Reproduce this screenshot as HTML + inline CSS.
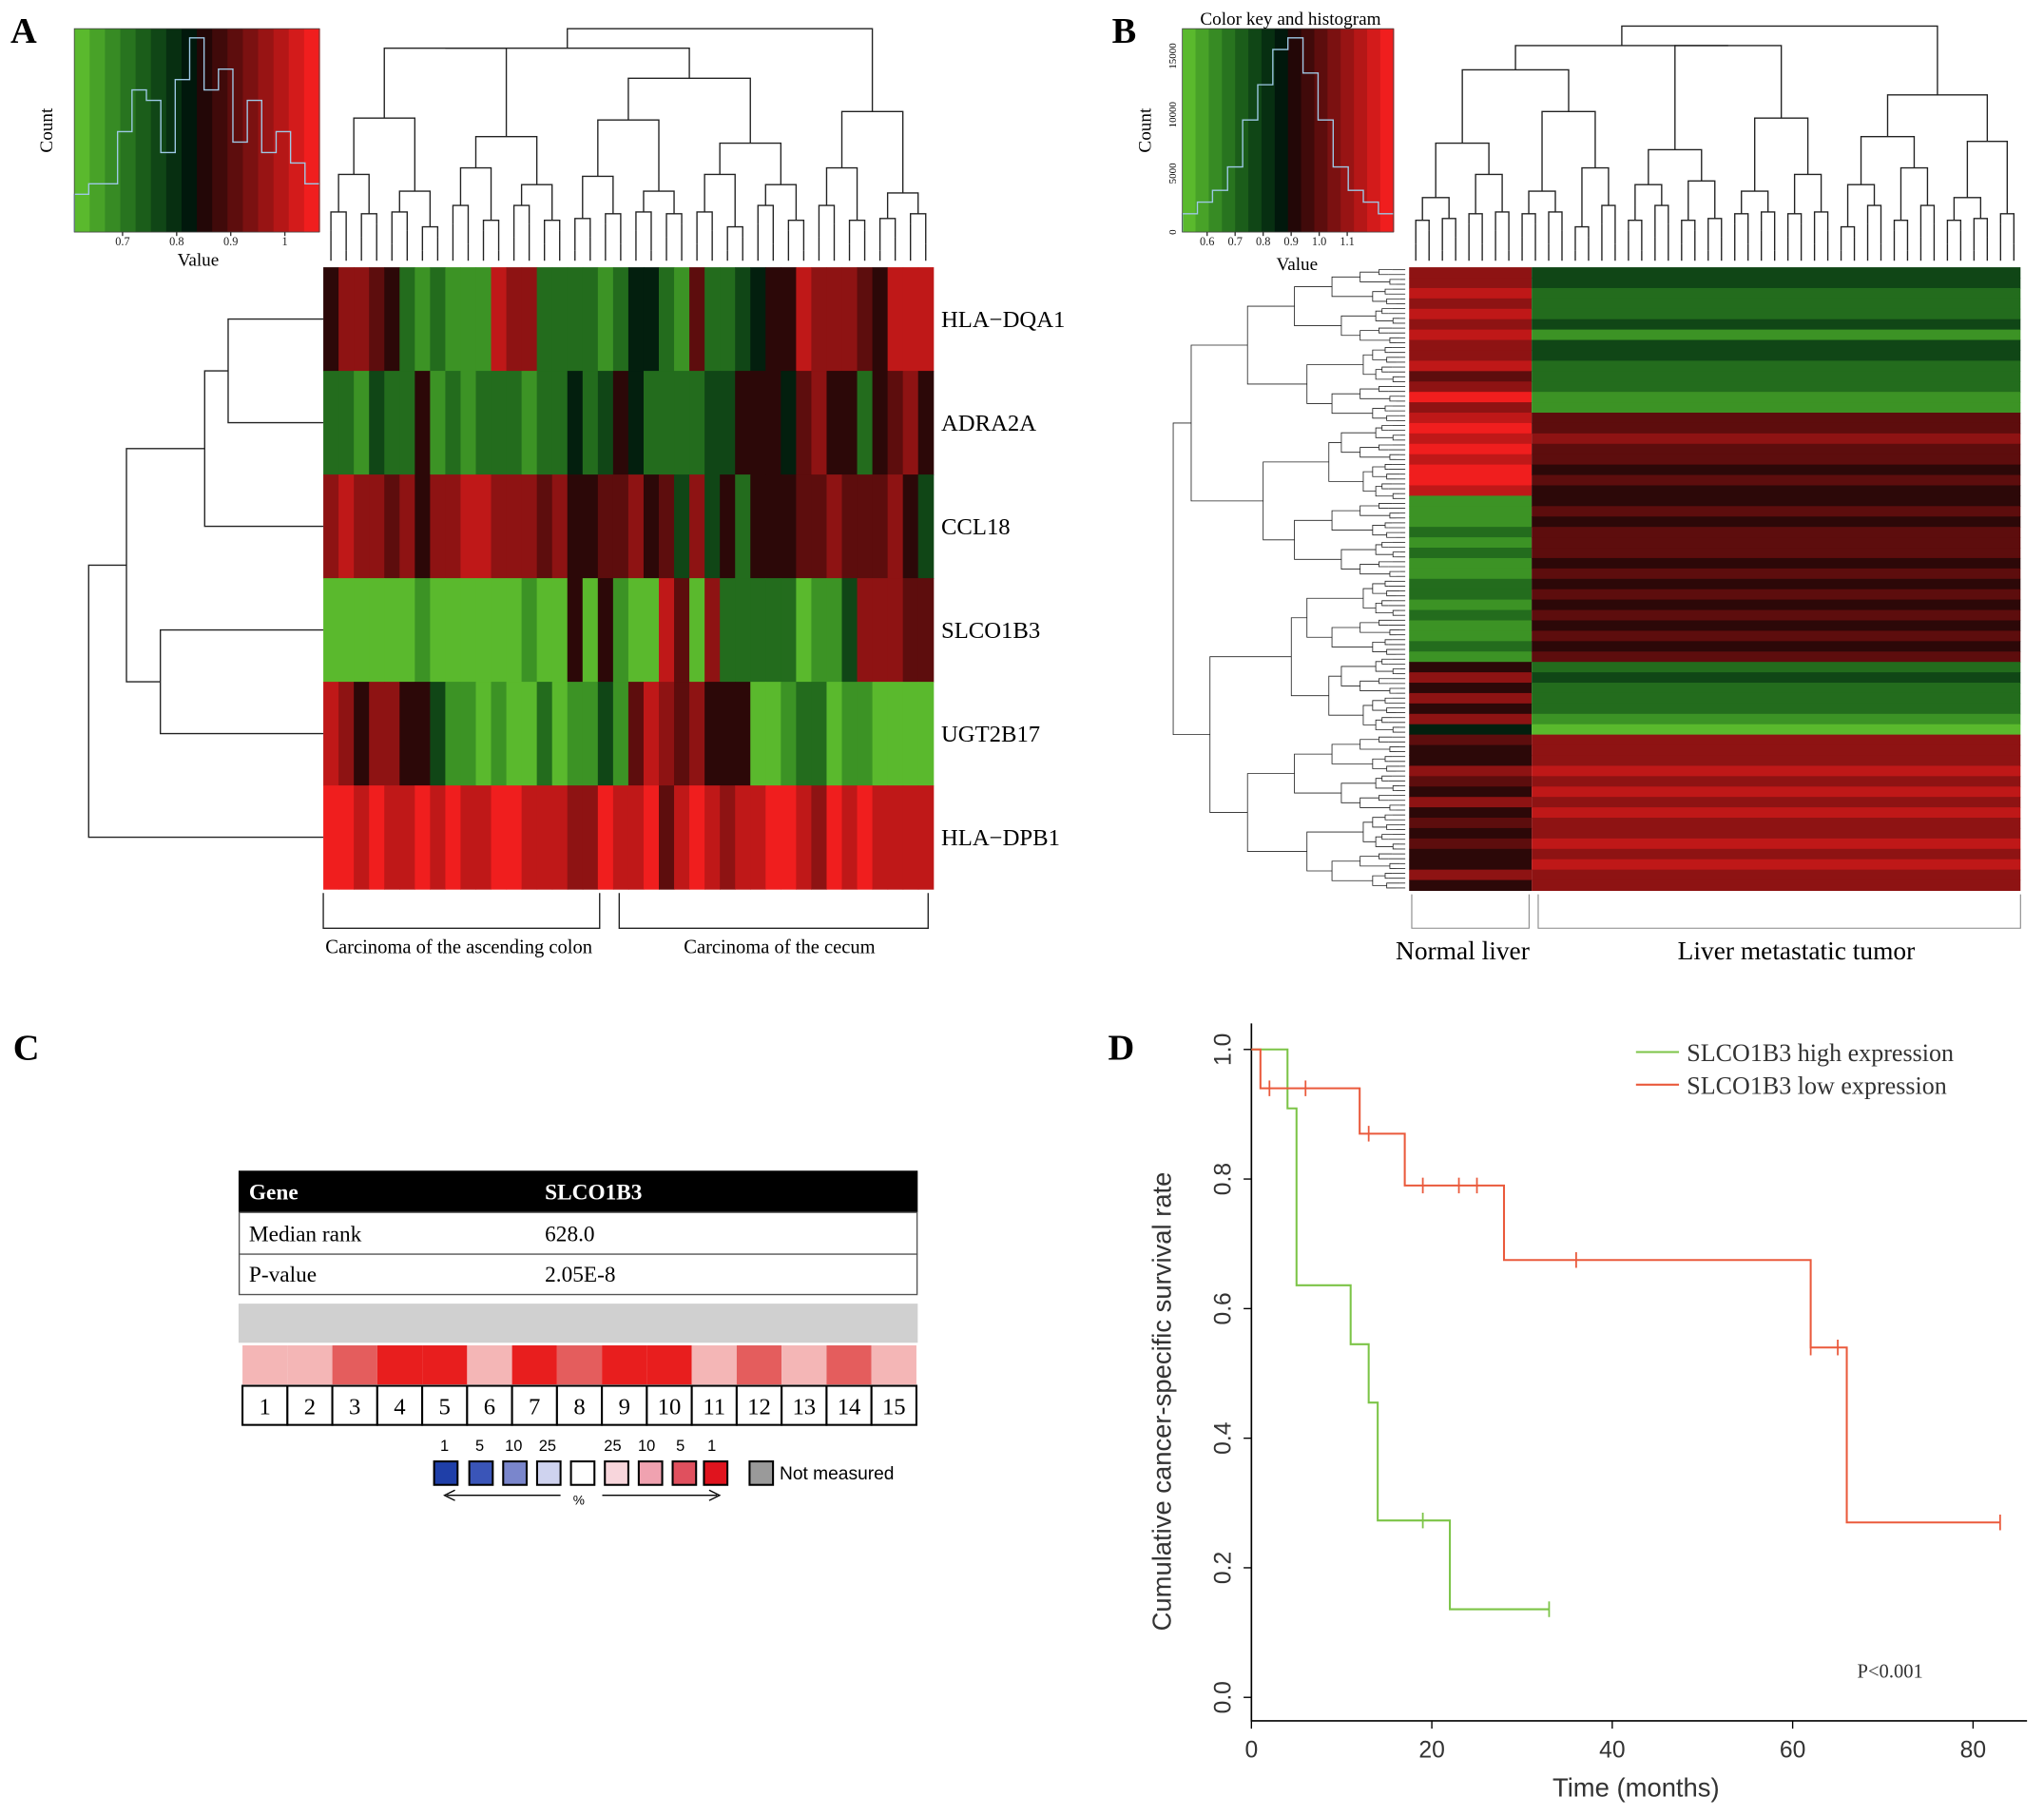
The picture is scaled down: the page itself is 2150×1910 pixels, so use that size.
<!DOCTYPE html>
<html><head><meta charset="utf-8"><style>
html,body{margin:0;padding:0;background:#fff;}
svg{display:block;font-family:"Liberation Serif",serif;}
</style></head><body>
<svg id="fig" width="2150" height="1910" viewBox="0 0 1568 1393" xmlns="http://www.w3.org/2000/svg">
<g id="A"></g>
<g id="B"></g>
<g id="C"></g>
<g id="D"></g>
</svg>
<script>
// ---------- DATA ----------
const aGenes = ["HLA−DQA1","ADRA2A","CCL18","SLCO1B3","UGT2B17","HLA−DPB1"];
const aRows = [
"5776521211187722221244216223455877765888",
"2213225121222122423542222335554675525675",
"7877675778877767556675637352555667666753",
"0000001000000100505100860722222011377766",
"8757755311010020113168767555001220110000",
"9989889898899888779889689878899879898888"];
const aHist = [3,4,4,9,13,12,7,14,18,13,15,8,12,7,9,6,4];
const aKeyTicks = ["0.7","0.8","0.9","1"];
const bNormal = "778787877867978989899811121211221211215757574655765756565575";
const bTumor  = "332223133222116676656556566656565656562322210777878787787877";
const bHist = [1,2,3,5,9,12,15,16,13,9,5,3,2,1];
const bKeyTicks = ["0.6","0.7","0.8","0.9","1.0","1.1"];
const bCountTicks = ["0","5000","10000","15000"];
const cTissues = ["1","2","3","4","5","6","7","8","9","10","11","12","13","14","15"];
const cLevels = [1,1,2,3,3,1,3,2,3,3,1,2,1,2,1];
const greenT = [0,4,5,11,13,14,22,33];
const greenS = [1.0,0.909,0.636,0.545,0.455,0.273,0.136,0.136];
const greenCens = [[19,0.273],[33,0.136]];
const redT = [0,1,12,17,28,62,66,83];
const redS = [1.0,0.94,0.87,0.79,0.675,0.54,0.27,0.27];
const redCens = [[2,0.94],[6,0.94],[13,0.87],[19,0.79],[23,0.79],[25,0.79],[36,0.675],[62,0.54],[65,0.54],[83,0.27]];
const dXTicks = [0,20,40,60,80];
const dYTicks = [0,0.2,0.4,0.6,0.8,1.0];

const NS="http://www.w3.org/2000/svg";
function mk(parent,tag,attrs,text){const e=document.createElementNS(NS,tag);for(const k in attrs)e.setAttribute(k,attrs[k]);if(text!==undefined)e.textContent=text;parent.appendChild(e);return e;}
function heat(v){ // 0..9 green->black->red
  v=+v; if(v<=4.5){const t=v/4.5;const r=Math.round(90*Math.pow(1-t,1.6)),gg=Math.round(185*(1-t)+12*t),b=Math.round(45*(1-t)+10*t);return `rgb(${r},${gg},${b})`;}
  const t=(v-4.5)/4.5;return `rgb(${Math.round(20+220*t)},${Math.round(5+25*t)},${Math.round(5+25*t)})`;}
function dendroCols(g,x0,x1,yTop,yLeaf,n,seed){
  let nodes=[];const w=(x1-x0)/n;
  for(let i=0;i<n;i++)nodes.push({x:x0+w*(i+.5),y:yLeaf- (8+((i*7+seed)%5)*5)});
  nodes.forEach(nd=>{mk(g,'line',{x1:nd.x,y1:yLeaf,x2:nd.x,y2:nd.y,stroke:'#222','stroke-width':1});});
  let lvl=1;
  while(nodes.length>1){const nn=[];
    for(let i=0;i<nodes.length;i+=2){
      if(i+1>=nodes.length){nn.push(nodes[i]);continue;}
      const a=nodes[i],b=nodes[i+1];
      const h=Math.min(a.y,b.y)-(6+((i+seed)%4)*4)*lvl*0.8;
      const y=nodes.length<=2?yTop:Math.max(yTop+15,h);
      mk(g,'path',{d:`M${a.x},${a.y}V${y}H${b.x}V${b.y}`,fill:'none',stroke:'#222','stroke-width':1});
      nn.push({x:(a.x+b.x)/2,y:y});}
    nodes=nn;lvl++;}
}
function dendroRows(g,y0,y1,xLeft,xLeaf,n,seed,sw){
  let nodes=[];const h=(y1-y0)/n;
  for(let i=0;i<n;i++)nodes.push({y:y0+h*(i+.5),x:xLeaf-(4+((i*5+seed)%4)*3)});
  nodes.forEach(nd=>mk(g,'line',{x1:xLeaf,y1:nd.y,x2:nd.x,y2:nd.y,stroke:'#222','stroke-width':sw}));
  let lvl=1;
  while(nodes.length>1){const nn=[];
    for(let i=0;i<nodes.length;i+=2){
      if(i+1>=nodes.length){nn.push(nodes[i]);continue;}
      const a=nodes[i],b=nodes[i+1];
      let x=Math.min(a.x,b.x)-(3+((i+seed)%3)*3)*lvl*0.8;
      if(nodes.length<=2)x=xLeft;
      mk(g,'path',{d:`M${a.x},${a.y}H${x}V${b.y}H${b.x}`,fill:'none',stroke:'#222','stroke-width':sw});
      nn.push({y:(a.y+b.y)/2,x:x});}
    nodes=nn;lvl++;}
}
function colorKey(g,x,y,w,h,hist,ticks,tickStart,tickStep){
  const n=16;
  for(let i=0;i<n;i++){const r=mk(g,'rect',{x:x+i*w/n,y:y,width:w/n+0.5,height:h,fill:heat(i*9/(n-1))});
    }
  const mx=Math.max(...hist);let d=`M${x},${y+h}`;
  hist.forEach((v,i)=>{const yy=y+h-5-v/mx*(h-12);d+=`V${yy}H${x+(i+1)*w/hist.length}`;});
  mk(g,'path',{d:d,fill:'none',stroke:'#9ec9e6','stroke-width':1});
  mk(g,'rect',{x:x,y:y,width:w,height:h,fill:'none',stroke:'#444','stroke-width':0.6});
  ticks.forEach((t,i)=>{const tx=tickStart+i*tickStep;mk(g,'line',{x1:tx,y1:y+h,x2:tx,y2:y+h+3,stroke:'#333'});
    mk(g,'text',{x:tx,y:y+h+10,'font-size':9,'text-anchor':'middle',fill:'#222'},t);});
}
// ---------- PANEL A ----------
(function(){
  const g=document.getElementById('A');
  const lab=mk(g,'text',{x:8,y:33,'font-size':28,'font-weight':'bold'},'A');
  
  colorKey(g,57,22,188,156,aHist,aKeyTicks,94,41.5);
  mk(g,'text',{x:152,y:204,'font-size':14,'text-anchor':'middle'},'Value');
  mk(g,'text',{x:40,y:100,'font-size':14,'text-anchor':'middle',transform:'rotate(-90 40 100)'},'Count');
  const hx=248,hy=205,hw=468,hh=477;const rows=aRows.length,cols=aRows[0].length;
  const cw=hw/cols,rh=hh/rows;
  aRows.forEach((r,ri)=>{for(let c=0;c<cols;c++){const e=mk(g,'rect',{x:hx+c*cw,y:hy+ri*rh,width:cw+0.4,height:rh+0.4,fill:heat(r[c])});
    }
    const t=mk(g,'text',{x:722,y:hy+ri*rh+rh/2+6,'font-size':18},aGenes[ri]);
    });
  dendroCols(g,hx,hx+hw,22,200,cols,3);
  const rc=i=>hy+rh*(i+.5);
  const L=(d)=>mk(g,'path',{d:d,fill:'none',stroke:'#222','stroke-width':1});
  L(`M248,${rc(0)}H175V${rc(1)}H248`);
  L(`M175,${(rc(0)+rc(1))/2}H157V${rc(2)}H248`);
  L(`M248,${rc(3)}H123V${rc(4)}H248`);
  const m1=((rc(0)+rc(1))/2+rc(2))/2, m2=(rc(3)+rc(4))/2;
  L(`M157,${m1}H97V${m2}H123`);
  L(`M97,${(m1+m2)/2}H68V${rc(5)}H248`);
  L(`M248,685V712H460V685`);L(`M475,685V712H712V685`);
  mk(g,'text',{x:352,y:731,'font-size':15,'text-anchor':'middle'},'Carcinoma of the ascending colon');
  mk(g,'text',{x:598,y:731,'font-size':15,'text-anchor':'middle'},'Carcinoma of the cecum');
})();
// ---------- PANEL B ----------
(function(){
  const g=document.getElementById('B');
  mk(g,'text',{x:853,y:33,'font-size':28,'font-weight':'bold'},'B');
  colorKey(g,907,22,162,156,bHist,bKeyTicks,926,21.5);
  mk(g,'text',{x:990,y:19,'font-size':14,'text-anchor':'middle'},'Color key and histogram');
  mk(g,'text',{x:995,y:207,'font-size':14,'text-anchor':'middle'},'Value');
  mk(g,'text',{x:883,y:100,'font-size':14,'text-anchor':'middle',transform:'rotate(-90 883 100)'},'Count');
  bCountTicks.forEach((t,i)=>{const yy=178-i*45;mk(g,'text',{x:902,y:yy,'font-size':8,'text-anchor':'middle',transform:`rotate(-90 902 ${yy})`},t);});
  const x0=1081,xs=1175,x1=1550,y0=205,y1=683;const n=bNormal.length;const rh=(y1-y0)/n;
  for(let i=0;i<n;i++){
    const a=mk(g,'rect',{x:x0,y:y0+i*rh,width:xs-x0,height:rh+0.4,fill:heat(bNormal[i])});
    
    const b=mk(g,'rect',{x:xs,y:y0+i*rh,width:x1-xs,height:rh+0.4,fill:heat(bTumor[i])});
    }
  dendroCols(g,x0,x1,20,200,46,1);
  dendroRows(g,y0,y1,900,1078,128,2,0.6);
  mk(g,'path',{d:'M1083,686V712H1173V686M1180,686V712H1550V686',fill:'none',stroke:'#888','stroke-width':0.8});
  mk(g,'text',{x:1122,y:736,'font-size':20,'text-anchor':'middle'},'Normal liver');
  mk(g,'text',{x:1378,y:736,'font-size':20,'text-anchor':'middle'},'Liver metastatic tumor');
})();
// ---------- PANEL C ----------
(function(){
  const g=document.getElementById('C');
  mk(g,'text',{x:10,y:813,'font-size':28,'font-weight':'bold'},'C');
  mk(g,'rect',{x:183,y:898,width:521,height:32,fill:'#000'});
  mk(g,'text',{x:191,y:920,'font-size':17,'font-weight':'bold',fill:'#fff'},'Gene');
  mk(g,'text',{x:418,y:920,'font-size':17,'font-weight':'bold',fill:'#fff'},'SLCO1B3');
  mk(g,'rect',{x:183.5,y:930,width:520,height:63,fill:'none',stroke:'#555'});
  mk(g,'line',{x1:183,y1:962,x2:704,y2:962,stroke:'#555'});
  mk(g,'text',{x:191,y:952,'font-size':17},'Median rank');mk(g,'text',{x:418,y:952,'font-size':17},'628.0');
  mk(g,'text',{x:191,y:983,'font-size':17},'P-value');mk(g,'text',{x:418,y:983,'font-size':17},'2.05E-8');
  mk(g,'rect',{x:183,y:1000,width:521,height:30,fill:'#d0d0d0'});
  const cols={1:'#f4b6b6',2:'#e45d5d',3:'#e81e1e'};const w=(703-186)/15;
  cTissues.forEach((t,i)=>{const x=186+i*w;
    const c=mk(g,'rect',{x:x,y:1032,width:w,height:30,fill:cols[cLevels[i]]});
    
    mk(g,'rect',{x:x,y:1063,width:w,height:30,fill:'#fff',stroke:'#000','stroke-width':1.5});
    mk(g,'text',{x:x+w/2,y:1085,'font-size':18,'text-anchor':'middle'},t);});
  const lg=[['#1f3fa8','1'],['#3a55b8','5'],['#7a86cc','10'],['#cfd3ef','25'],['#fff',''],['#f8d6dc','25'],['#f0a2b0','10'],['#e0505e','5'],['#e0141e','1']];
  const lx=[333,360,386,412,438,464,490,516,540];
  lg.forEach((l,i)=>{mk(g,'rect',{x:lx[i],y:1121,width:18,height:18,fill:l[0],stroke:'#000','stroke-width':1.5});
    if(l[1])mk(g,'text',{x:lx[i]+(i<4?8:6),y:1113,'font-size':12,'font-family':'Liberation Sans','text-anchor':'middle'},l[1]);});
  mk(g,'rect',{x:575,y:1121,width:18,height:18,fill:'#9a9a9a',stroke:'#000','stroke-width':1.5});
  mk(g,'text',{x:598,y:1135,'font-size':14,'font-family':'Liberation Sans'},'Not measured');
  mk(g,'path',{d:'M430,1147H343M349,1143L341,1147L349,1151M462,1147H550M544,1143L552,1147L544,1151',stroke:'#000',fill:'none'});
  mk(g,'text',{x:444,y:1154,'font-size':10,'font-family':'Liberation Sans','text-anchor':'middle'},'%');
})();
// ---------- PANEL D ----------
(function(){
  const g=document.getElementById('D');
  mk(g,'text',{x:850,y:813,'font-size':28,'font-weight':'bold'},'D');
  const X=t=>960+t*6.92, Y=s=>1302-s*497;
  mk(g,'path',{d:'M960,785V1320H1555',fill:'none',stroke:'#000','stroke-width':1.2});
  dXTicks.forEach(t=>{mk(g,'line',{x1:X(t),y1:1320,x2:X(t),y2:1326,stroke:'#000'});
    mk(g,'text',{x:X(t),y:1348,'font-size':18,'font-family':'Liberation Sans','text-anchor':'middle',fill:'#333'},t);});
  dYTicks.forEach(s=>{mk(g,'line',{x1:954,y1:Y(s),x2:960,y2:Y(s),stroke:'#000'});
    mk(g,'text',{x:944,y:Y(s),'font-size':18,'font-family':'Liberation Sans','text-anchor':'middle',fill:'#333',transform:`rotate(-90 944 ${Y(s)})`},s.toFixed(1));});
  mk(g,'text',{x:1255,y:1378,'font-size':20,'font-family':'Liberation Sans','text-anchor':'middle',fill:'#333'},'Time (months)');
  mk(g,'text',{x:898,y:1075,'font-size':20,'font-family':'Liberation Sans','text-anchor':'middle',fill:'#333',transform:'rotate(-90 898 1075)'},'Cumulative cancer-specific survival rate');
  function km(T,S,cens,col,name){
    let d=`M${X(T[0])},${Y(S[0])}`;
    for(let i=1;i<T.length;i++){d+=`H${X(T[i])}V${Y(S[i])}`;}
    const p=mk(g,'path',{d:d,fill:'none',stroke:col,'stroke-width':1.5});
    
    cens.forEach(c=>mk(g,'line',{x1:X(c[0]),y1:Y(c[1])-6,x2:X(c[0]),y2:Y(c[1])+6,stroke:col,'stroke-width':1.3}));
  }
  km(greenT,greenS,greenCens,'#7cc447','green-curve-high');
  km(redT,redS,redCens,'#ea5a3c','red-curve-low');
  mk(g,'line',{x1:1255,y1:807,x2:1288,y2:807,stroke:'#7cc447','stroke-width':1.5});
  mk(g,'text',{x:1294,y:814,'font-size':19,fill:'#333'},'SLCO1B3 high expression');
  mk(g,'line',{x1:1255,y1:832,x2:1288,y2:832,stroke:'#ea5a3c','stroke-width':1.5});
  mk(g,'text',{x:1294,y:839,'font-size':19,fill:'#333'},'SLCO1B3 low expression');
  mk(g,'text',{x:1450,y:1287,'font-size':15,'text-anchor':'middle',fill:'#333'},'P<0.001');
})();
</script>
</body></html>
